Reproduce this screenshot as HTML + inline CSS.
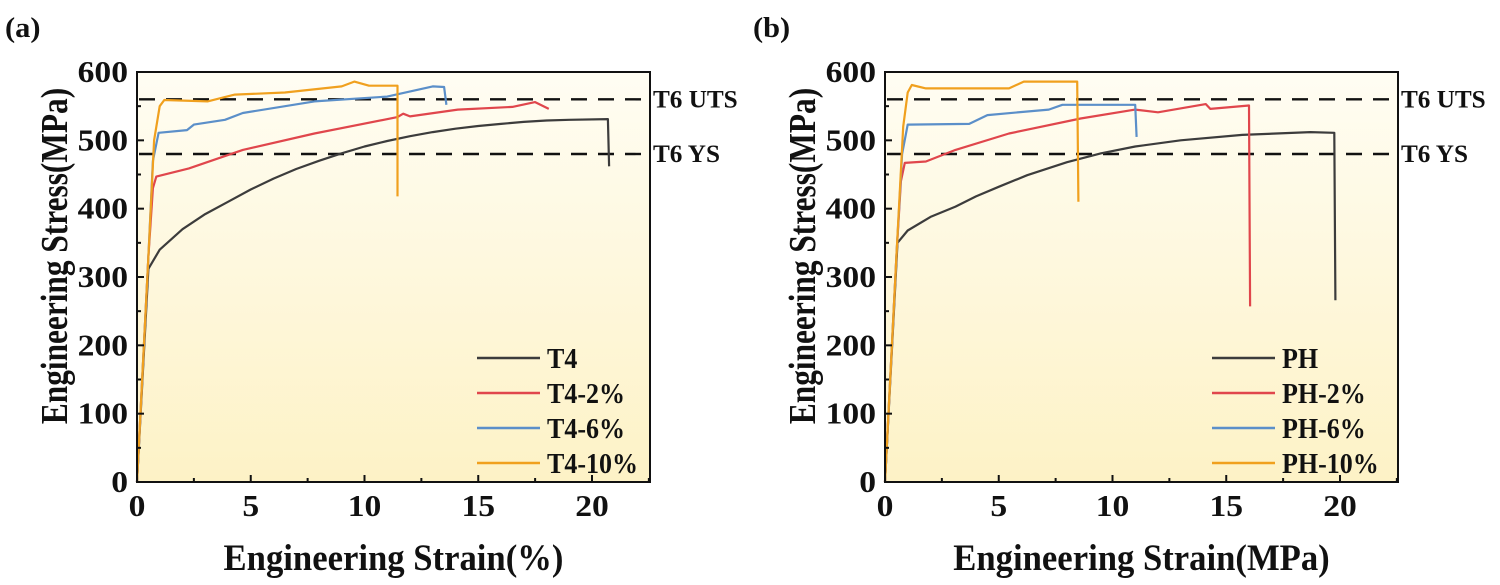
<!DOCTYPE html>
<html><head><meta charset="utf-8"><style>
html,body{margin:0;padding:0;background:#fff;width:1500px;height:585px;overflow:hidden}
svg{display:block}
text{font-family:"Liberation Serif",serif;font-weight:bold;fill:#111}
</style></head><body>
<svg id="chart" width="1500" height="585" viewBox="0 0 1500 585">
<defs>
<linearGradient id="bg" x1="0" y1="0" x2="0" y2="1">
<stop offset="0" stop-color="#fffdf3"/><stop offset="1" stop-color="#fdf2c6"/>
</linearGradient>
</defs>
</svg>
<script>
// ---- data (strain %, stress MPa) ----
const xTicks=[0,5,10,15,20];
const yTicks=[0,100,200,300,400,500,600];
const t6UTS=560, t6YS=480;
const seriesNamesA=["T4","T4-2%","T4-6%","T4-10%"];
const seriesNamesB=["PH","PH-2%","PH-6%","PH-10%"];
const colors=["#3c3c3c","#e0464c","#5b8fc9","#f0a01e"];
const a_T4=[[0,0],[0.5,312],[1,340],[2,370],[3,392],[4,410],[5,428],[6,444],[7,458],[8,470],[9,481],[10,491],[11,499],[12,506],[13,512],[14,517],[15,521],[16,524],[17,527],[18,529],[19,530],[20.7,531],[20.75,462]];
const a_T4_2=[[0,0],[0.5,330],[0.7,430],[0.85,447],[2.28,459],[4.65,486],[7.8,510],[11.45,534],[11.7,539],[12,535],[14.1,545],[16.5,549],[17.5,556],[18.1,546]];
const a_T4_6=[[0,0],[0.5,330],[0.7,470],[0.95,511],[2.2,515],[2.5,523],[3.87,530],[4.65,540],[7.8,557],[11,564],[13,579],[13.5,578],[13.6,552]];
const a_T4_10=[[0,0],[0.5,330],[0.75,500],[1.0,550],[1.2,559],[3.1,557],[4.3,567],[6.5,570],[9.0,579],[9.55,586],[10.2,580],[11.45,580],[11.45,418]];
const b_PH=[[0,0],[0.55,350],[1,368],[2,388],[3.1,403],[4,418],[5,432],[6.25,449],[8,468],[9.5,481],[11,491],[13,500],[15.7,508],[18.7,512],[19.75,511],[19.8,266]];
const b_PH_2=[[0,0],[0.5,330],[0.7,440],[0.87,467],[1.8,469],[3.1,486],[5.45,510],[8.6,532],[11,545],[12,541],[14.1,553],[14.3,546],[16,551],[16.05,257]];
const b_PH_6=[[0,0],[0.5,330],[0.75,480],[1.0,523],[3.7,524],[4.5,537],[7.2,545],[7.8,552],[11,552],[11.06,505]];
const b_PH_10=[[0,0],[0.5,330],[0.8,520],[1.0,570],[1.18,581],[1.8,576],[5.45,576],[6.1,586],[8.45,586],[8.5,410]];
const seriesA=[a_T4,a_T4_2,a_T4_6,a_T4_10];
const seriesB=[b_PH,b_PH_2,b_PH_6,b_PH_10];

const NS="http://www.w3.org/2000/svg";
const svg=document.getElementById('chart');
function mk(tag,attrs,parent){const e=document.createElementNS(NS,tag);for(const k in attrs)e.setAttribute(k,attrs[k]);(parent||svg).appendChild(e);return e;}
function txt(parent,x,y,size,anchor,str,scx,scy,rot){
  const e=mk('text',{x:0,y:0,'font-size':size,'text-anchor':anchor,transform:`translate(${x},${y})${rot?' rotate('+rot+')':''} scale(${scx||1},${scy||1})`},parent);
  e.textContent=str;return e;
}

function panel(ox,label,xTitle,series,names,key){
  const L=ox,R=ox+513,T=72,B=482,xmax=22.55,ymax=600;
  const sx=v=>L+v*(R-L)/xmax, sy=v=>B-v*(B-T)/ymax;
  const g=mk('g',{});
  
  
  const lab=txt(g,ox-132,37,29,'start',label,1.05,1);
  
  
  const bg=mk('rect',{x:L,y:T,width:R-L,height:B-T,fill:'url(#bg)'},g);
  
  
  [[t6UTS,'T6 UTS'],[t6YS,'T6 YS']].forEach(([v,t],i)=>{
    const ln=mk('line',{x1:L+2,x2:R-4,y1:sy(v),y2:sy(v),stroke:'#111','stroke-width':2.4,'stroke-dasharray':'16 11'},g);
    
    
    const tx=txt(g,R+3,sy(v)+8,24,'start',t,1.05,1.05);
    
    
  });
  series.forEach((s,i)=>{
    const p=mk('polyline',{points:s.map(d=>sx(d[0]).toFixed(1)+','+sy(d[1]).toFixed(1)).join(' '),fill:'none',stroke:colors[i],'stroke-width':2.2,'stroke-linejoin':'round'},g);
    
    
  });
  const fr=mk('rect',{x:L,y:T,width:R-L,height:B-T,fill:'none',stroke:'#111','stroke-width':2},g);
  
  
  xTicks.forEach(v=>{
    mk('line',{x1:sx(v),x2:sx(v),y1:B,y2:B-7,stroke:'#111','stroke-width':2},g);
    mk('line',{x1:sx(v+2.5),x2:sx(v+2.5),y1:B,y2:B-4,stroke:'#111','stroke-width':2},g);
    const t=txt(g,sx(v),516,28,'middle',String(v),1.2,1.1);
    
    
  });
  yTicks.forEach(v=>{
    mk('line',{x1:L,x2:L+7,y1:sy(v),y2:sy(v),stroke:'#111','stroke-width':2},g);
    if(v<600)mk('line',{x1:L,x2:L+4,y1:sy(v+50),y2:sy(v+50),stroke:'#111','stroke-width':2},g);
    const t=txt(g,L-9,sy(v)+10,28,'end',String(v),1.2,1.1);
    
    
  });
  const xt=txt(g,(L+R)/2,570,34,'middle',xTitle,1.02,1.1);
  
  
  const yt=txt(g,L-70,256,33,'middle','Engineering Stress(MPa)',0.95,1.15,-90);
  
  
  const lg=mk('g',{},g);
  
  
  const lx=key==='a'?L+340:L+327;
  names.forEach((n,i)=>{
    const y=358+i*35;
    mk('line',{x1:lx,x2:lx+63,y1:y,y2:y,stroke:colors[i],'stroke-width':2.5},lg);
    const t=txt(lg,lx+70,y+10,26,'start',n,1,1.08);
    
    
  });
}
panel(137,'(a)','Engineering Strain(%)',seriesA,seriesNamesA,'a');
panel(885,'(b)','Engineering Strain(MPa)',seriesB,seriesNamesB,'b');
</script>
</body></html>
